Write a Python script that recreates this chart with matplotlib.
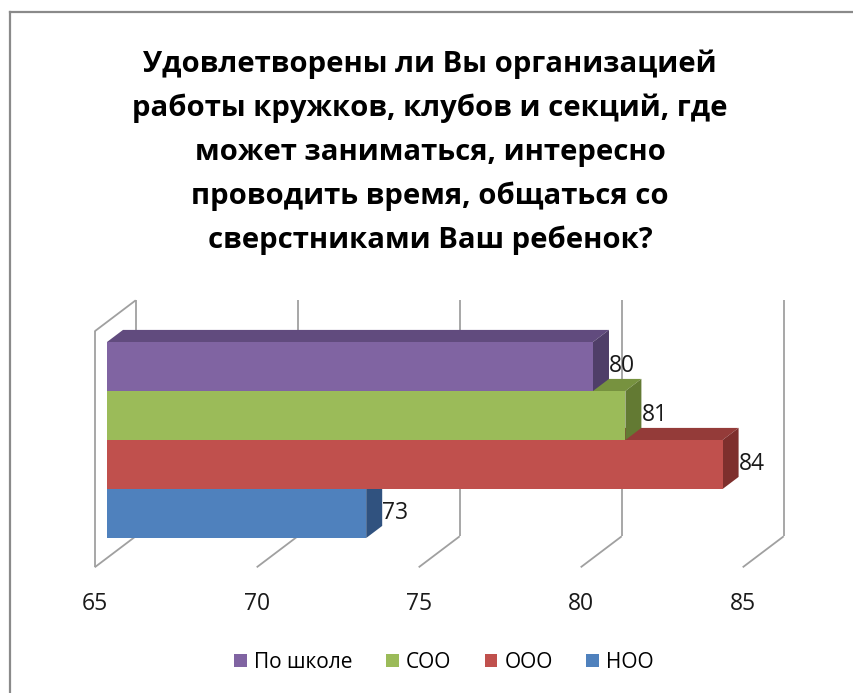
import matplotlib
matplotlib.use("Agg")
import matplotlib.pyplot as plt
from matplotlib.patches import Polygon, Patch
from matplotlib.lines import Line2D

plt.rcParams['font.family'] = ['Open Sans', 'DejaVu Sans']

# ---------------- data ----------------
title_lines = ["Удовлетворены ли Вы организацией",
               "работы кружков, клубов и секций, где",
               "может заниматься, интересно",
               "проводить время, общаться со",
               "сверстниками Ваш ребенок?"]
categories = ["НОО", "ООО", "СОО", "По школе"]      # bottom -> top
values = [73, 84, 81, 80]
front_colors = ["#4F81BD", "#C0504D", "#9BBB59", "#8064A2"]
top_colors = ["#3A6190", "#943B39", "#77923F", "#614B7E"]
side_colors = ["#30527F", "#7E2F2D", "#637A33", "#4F3E68"]
ticks = [65, 70, 75, 80, 85]
legend_order = ["По школе", "СОО", "ООО", "НОО"]

# ---------------- geometry ----------------
W, H = 854, 693
fig = plt.figure(figsize=(W / 100, H / 100), dpi=100)
fig.patch.set_facecolor("white")

PX_PER_UNIT = 32.4      # horizontal pixels per value unit
X65_PX = 107            # pixel of value 65 on bar front plane
CAT_PX = 49             # pixels per bar (category unit)
BASE_PY = 538           # pixel (from top) of bar 0 bottom

ax = fig.add_axes([0, 0, 1, 1])
ax.set_xlim(65 - X65_PX / PX_PER_UNIT, 65 + (W - X65_PX) / PX_PER_UNIT)
ax.set_ylim((BASE_PY - H) / CAT_PX - 0.5, BASE_PY / CAT_PX - 0.5)
ax.axis("off")

DX = 41 / PX_PER_UNIT   # full depth in data units
DY = 31 / CAT_PX
def off(d):
    return ((d - 0.3) * DX, (d - 0.3) * DY)

bx, by = off(1.0)     # back wall
fx, fy = off(0.0)     # front of floor
bdx, bdy = off(0.69)  # bar back face

gap = 20 / CAT_PX
y_lo = -0.5 - gap
y_hi = len(categories) - 0.5 + gap
xmin = ticks[0]

grid_kw = dict(color="#A0A0A0", lw=1.3, solid_capstyle="butt", zorder=1)
for t in ticks:
    ax.plot([t + bx, t + bx], [y_lo + by, y_hi + by], **grid_kw)
    ax.plot([t + bx, t + fx], [y_lo + by, y_lo + fy], **grid_kw)
# left wall
ax.plot([xmin + fx, xmin + fx], [y_lo + fy, y_hi + fy], **grid_kw)
ax.plot([xmin + fx, xmin + bx], [y_hi + fy, y_hi + by], **grid_kw)

# tick labels
for t in ticks:
    ax.text(t + fx, y_lo + fy - 0.74, str(t), ha="center", va="center",
            fontsize=16.5, color="#1a1a1a", zorder=10)

# bars
for i, (v, fc, tc, sc) in enumerate(zip(values, front_colors, top_colors, side_colors)):
    z = 3 + i
    top = Polygon([(xmin, i + 0.5), (v, i + 0.5), (v + bdx, i + 0.5 + bdy),
                   (xmin + bdx, i + 0.5 + bdy)], closed=True, fc=tc, ec="none", zorder=z)
    side = Polygon([(v, i - 0.5), (v + bdx, i - 0.5 + bdy), (v + bdx, i + 0.5 + bdy),
                    (v, i + 0.5)], closed=True, fc=sc, ec="none", zorder=z)
    ax.add_patch(top)
    ax.add_patch(side)
    ax.barh(i, v - xmin, left=xmin, height=1.0, color=fc, edgecolor="none", zorder=z)
    ax.text(v + bdx, i + 0.02, str(v), ha="left", va="center", fontsize=16.5,
            color="#1a1a1a", zorder=20)

# title
renderer = fig.canvas.get_renderer()
probe = fig.text(0.5, 0.5, title_lines[0], fontsize=24, fontweight="bold")
w = probe.get_window_extent(renderer).width
probe.remove()
title_fs = 24 * 574 / w
baselines = [72, 116, 160, 204, 248]
for line, b in zip(title_lines, baselines):
    fig.text(430 / W, 1 - b / H, line, ha="center", va="baseline",
             fontsize=title_fs, fontweight="bold", color="black")

# legend
color_of = dict(zip(categories, front_colors))
handles = [Patch(facecolor=color_of[c], edgecolor="none", label=c) for c in legend_order]
fig.legend(handles=handles, loc="center", bbox_to_anchor=(444 / W, 1 - 662 / H),
           ncol=4, frameon=False, fontsize=15, handlelength=0.6, handleheight=0.6,
           handletextpad=0.35, columnspacing=1.6)

# chart border (partially outside the picture)
fig.add_artist(Line2D([10 / W, 10 / W], [0, 1 - 12 / H], color="#8A8A8A", lw=1.6,
                      transform=fig.transFigure))
fig.add_artist(Line2D([10 / W, 1], [1 - 12 / H, 1 - 12 / H], color="#8A8A8A", lw=1.6,
                      transform=fig.transFigure))

fig.savefig("out.png", dpi=100, facecolor="white")
